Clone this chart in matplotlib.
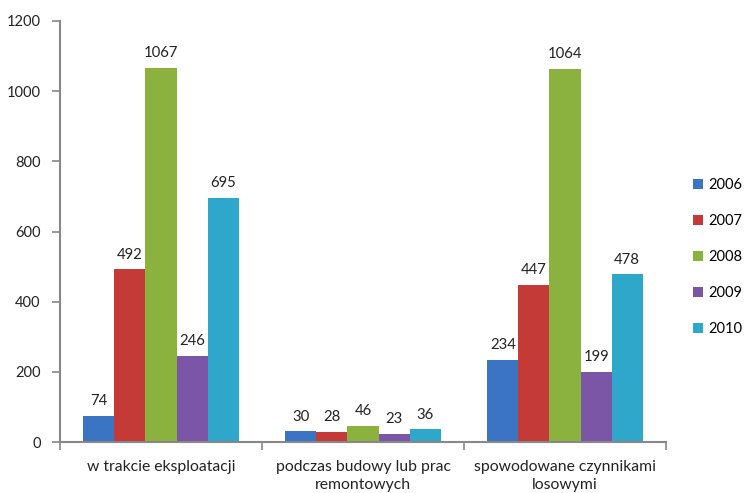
import numpy as np
import matplotlib.pyplot as plt
from matplotlib.patches import Patch

plt.rcParams['font.family'] = ['Lato', 'DejaVu Sans']

categories = ['w trakcie eksploatacji', 'podczas budowy lub prac\nremontowych',
              'spowodowane czynnikami\nlosowymi']
years = ['2006', '2007', '2008', '2009', '2010']
v2006 = [74, 30, 234]
v2007 = [492, 28, 447]
v2008 = [1067, 46, 1064]
v2009 = [246, 23, 199]
v2010 = [695, 36, 478]
series = [v2006, v2007, v2008, v2009, v2010]
colors = ['#3b74c2', '#c43a36', '#8bb23f', '#7b55a6', '#2ea7cb']

fig = plt.figure(figsize=(7.44, 4.93), dpi=100)
ax = fig.add_axes([60 / 744, 1 - 442 / 493, 606 / 744, 421 / 493])

x = np.arange(len(categories))
w = 0.154
for i, (vals, c) in enumerate(zip(series, colors)):
    pos = x + (i - 2) * w
    ax.bar(pos, vals, width=w, color=c, edgecolor='none', zorder=2)
    for p, v in zip(pos, vals):
        ax.text(p, v + 22, str(v), ha='center', va='bottom',
                fontsize=10.7, color='#222222')

ax.set_xlim(-0.5, 2.5)
ax.set_ylim(0, 1200)
ax.set_yticks(range(0, 1201, 200))
ax.set_xticks(x)
ax.set_xticklabels(categories, fontsize=11.3, color='#222222', linespacing=1.35)
ax.set_xticks([-0.5, 0.5, 1.5, 2.5], minor=True)
ax.tick_params(axis='x', which='major', length=0, pad=13)
ax.tick_params(axis='x', which='minor', length=6, color='#888888', width=1.2)
ax.tick_params(axis='y', length=6, color='#888888', width=1.2,
               labelsize=10.5, labelcolor='#222222', pad=8)

for s in ['top', 'right']:
    ax.spines[s].set_visible(False)
for s in ['left', 'bottom']:
    ax.spines[s].set_color('#888888')
    ax.spines[s].set_linewidth(1.5)

handles = [Patch(facecolor=c, edgecolor='none') for c in colors]
fig.legend(handles, years, loc='center left', bbox_to_anchor=(693 / 744, 1 - 257 / 493),
           frameon=False, fontsize=10.5, handlelength=0.7, handleheight=0.7,
           handletextpad=0.35, labelspacing=1.5, borderpad=0, borderaxespad=0)

fig.savefig('out.png', dpi=100)
